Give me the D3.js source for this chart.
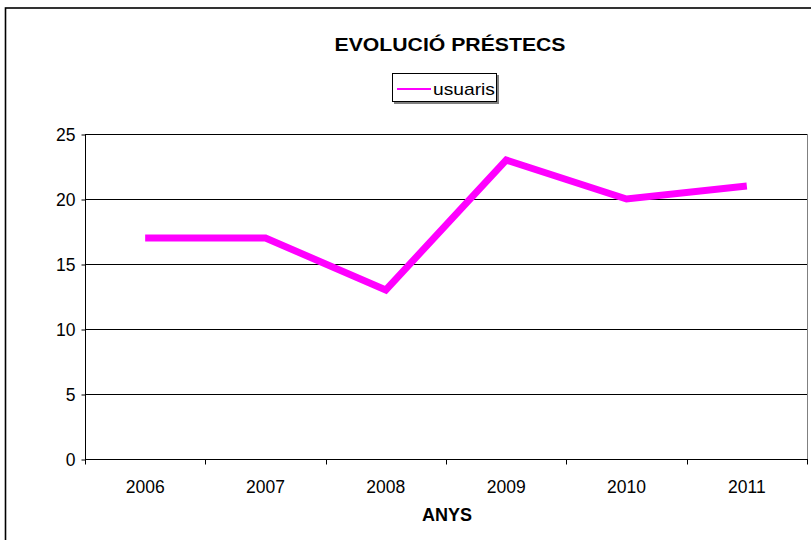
<!DOCTYPE html>
<html><head><meta charset="utf-8">
<script src="https://cdn.jsdelivr.net/npm/d3@7"></script>
<style>body{margin:0;background:#fff}svg{display:block;font-family:Arial,"Liberation Sans",sans-serif}</style>
</head><body>
<svg id="c" width="811" height="540"></svg>
<script>
const years = ["2006","2007","2008","2009","2010","2011"];
const usuaris = [17,17,13,23,20,21];
const yTicks = [0,5,10,15,20,25];
const title = "EVOLUCIÓ PRÉSTECS";
const xTitle = "ANYS";
const seriesName = "usuaris";

const svg = d3.select("#c");
// outer chart border
svg.append("rect").attr("x",5.5).attr("y",8).attr("width",820).attr("height",560)
  .attr("fill","#fff").attr("stroke","#000").attr("stroke-width",1.6);

const L=85, R=807, T=134, B=459;
const x = d3.scaleBand().domain(years).range([L,R]);
const y = d3.scaleLinear().domain([0,25]).range([B,T]);

// gridlines
svg.append("g").selectAll("line").data(yTicks.filter(d=>d>0)).join("line")
  .attr("x1",L).attr("x2",R).attr("y1",d=>Math.round(y(d))+0.5).attr("y2",d=>Math.round(y(d))+0.5)
  .attr("stroke","#000").attr("stroke-width",1);
// right border of plot
svg.append("line").attr("x1",R+0.5).attr("x2",R+0.5).attr("y1",T).attr("y2",B)
  .attr("stroke","#808080").attr("stroke-width",1);

// y axis
const ya = svg.append("g").attr("transform",`translate(${L+0.5},0.5)`)
  .call(d3.axisLeft(y).tickValues(yTicks).tickSize(4).tickPadding(6));
ya.select(".domain").attr("stroke","#000").attr("d",`M0,${T}V${B}`);
ya.selectAll(".tick line").attr("stroke","#000");
ya.selectAll("text").attr("font-size",17.5).attr("fill","#000").attr("font-family","Arial,'Liberation Sans',sans-serif").attr("dy","0.35em");

// x axis with boundary ticks
const xa = svg.append("g").attr("transform",`translate(0,${B+0.5})`);
xa.append("line").attr("x1",L).attr("x2",R+1).attr("y1",0).attr("y2",0).attr("stroke","#000");
const bounds = years.map(d=>x(d)).concat([R]);
xa.selectAll("line.tk").data(bounds).join("line").attr("class","tk")
  .attr("x1",d=>Math.round(d)+0.5).attr("x2",d=>Math.round(d)+0.5).attr("y1",0).attr("y2",5).attr("stroke","#000");
xa.selectAll("text").data(years).join("text")
  .attr("x",d=>x(d)+x.bandwidth()/2).attr("y",33).attr("text-anchor","middle")
  .attr("font-size",17.5).attr("fill","#000").text(d=>d);

// line
const line = d3.line().x((d,i)=>x(years[i])+x.bandwidth()/2).y(d=>y(d));
svg.append("path").datum(usuaris).attr("d",line).attr("fill","none")
  .attr("stroke","#ff00ff").attr("stroke-width",7).attr("stroke-linejoin","miter").attr("stroke-linecap","butt");

// title
svg.append("text").attr("x",450).attr("y",50.5).attr("text-anchor","middle")
  .attr("font-size",19).attr("font-weight","bold").attr("textLength",231).attr("lengthAdjust","spacingAndGlyphs").text(title);
// x title
svg.append("text").attr("x",447).attr("y",521).attr("text-anchor","middle")
  .attr("font-size",18).attr("font-weight","bold").text(xTitle);

// legend
const lg = svg.append("g");
lg.append("rect").attr("x",394).attr("y",75).attr("width",105).attr("height",29).attr("fill","#808080");
lg.append("rect").attr("x",392.5).attr("y",73.5).attr("width",104).attr("height",28).attr("fill","#fff").attr("stroke","#000").attr("stroke-width",1);
lg.append("line").attr("x1",397).attr("x2",431).attr("y1",89).attr("y2",89).attr("stroke","#ff00ff").attr("stroke-width",2);
lg.append("text").attr("x",433).attr("y",95).attr("font-size",17).attr("textLength",62).attr("lengthAdjust","spacingAndGlyphs").text(seriesName);
</script>
</body></html>
